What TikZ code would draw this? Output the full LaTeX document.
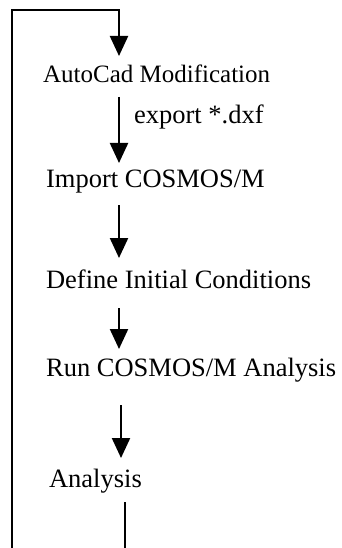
\documentclass[tikz,border=0pt]{standalone}
\usepackage{fontspec}
\setmainfont{Liberation Serif}
\usetikzlibrary{arrows.meta}
\begin{document}
\begin{tikzpicture}[x=1pt,y=-1pt,line width=2.2pt,
  arr/.style={-{Triangle[length=20pt,width=18pt]}},
  lbl/.style={anchor=base west,inner sep=0pt,font=\fontsize{26.5}{30}\selectfont}]
\useasboundingbox (0,0) rectangle (341,548);
\node[lbl,font=\fontsize{25}{30}\selectfont] (auto) at (42,83) {AutoCad Modification};
\node[lbl] (export) at (133,124) {export *.dxf};
\node[lbl] (import) at (45,187) {Import COSMOS/M};
\node[lbl] (define) at (45,288) {Define Initial Conditions};
\node[lbl] (run) at (45,376) {Run COSMOS/M Analysis};
\node[lbl] (analysis) at (48,487) {Analysis};
\coordinate (bl) at (12,549);
\coordinate (tl) at (12,10);
\coordinate (tr) at (119,10);
\coordinate (a1e) at (119,56);
\coordinate (a2s) at (119,97);
\coordinate (a2e) at (119,163);
\coordinate (a3s) at (119,205);
\coordinate (a3e) at (119,258);
\coordinate (a4s) at (119,308);
\coordinate (a4e) at (119,349);
\coordinate (a5s) at (121,405);
\coordinate (a5e) at (121,458);
\coordinate (a6s) at (125,502);
\coordinate (a6e) at (125,549);
\draw[arr] (bl) -- (tl) -- (tr) -- (a1e);
\draw[arr] (a2s) -- (a2e);
\draw[arr] (a3s) -- (a3e);
\draw[arr] (a4s) -- (a4e);
\draw[arr] (a5s) -- (a5e);
\draw (a6s) -- (a6e);
\end{tikzpicture}
\end{document}
